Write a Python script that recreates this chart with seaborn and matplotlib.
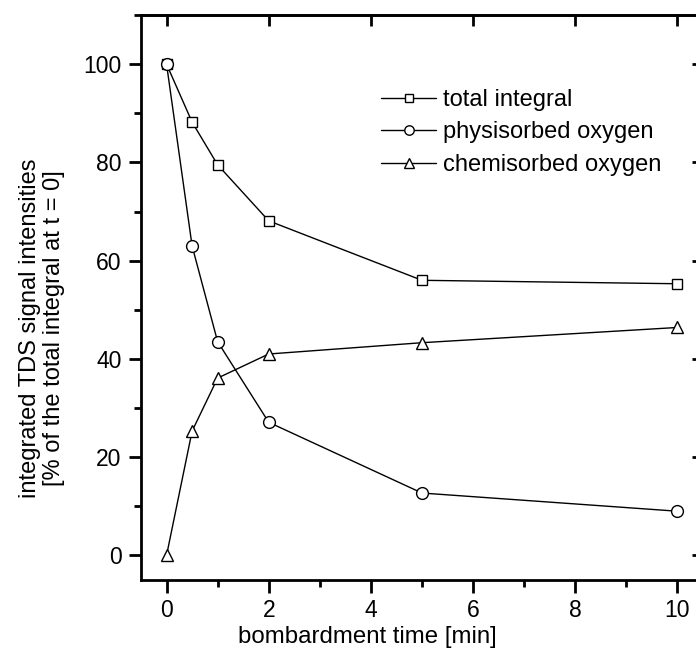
import matplotlib
matplotlib.use("Agg")
import matplotlib.pyplot as plt
import seaborn as sns
import pandas as pd
from matplotlib.ticker import MultipleLocator, NullLocator

sns.set_style("ticks")
plt.rcParams['font.family'] = ['Liberation Sans', 'DejaVu Sans']
plt.rcParams['text.color'] = 'black'
plt.rcParams['axes.labelcolor'] = 'black'
plt.rcParams['xtick.color'] = 'black'
plt.rcParams['ytick.color'] = 'black'

time_min = [0, 0.5, 1, 2, 5, 10]
total_integral = [100, 88.2, 79.5, 68.1, 56.0, 55.3]
physisorbed = [100, 63.0, 43.5, 27.1, 12.7, 9.0]
chemisorbed = [0, 25.3, 36.1, 41.0, 43.3, 46.4]
series_names = ["total integral", "physisorbed oxygen", "chemisorbed oxygen"]
series_markers = ["s", "o", "^"]

df = pd.concat([
    pd.DataFrame({"time": time_min, "value": vals, "series": name})
    for name, vals in zip(series_names, [total_integral, physisorbed, chemisorbed])
])

fig = plt.figure(figsize=(6.96, 6.53), dpi=100)
ax = fig.add_axes([141/696, 73/653, (703-141)/696, (580-15)/653])

for name, mk in zip(series_names, series_markers):
    sub = df[df["series"] == name]
    sns.lineplot(data=sub, x="time", y="value", ax=ax, color="black",
                 marker=mk, markersize=8.5 if mk != "s" else 7.5,
                 markerfacecolor="white", markeredgecolor="black",
                 markeredgewidth=1.0, linewidth=1.0, label=name)

for ln in ax.lines:
    ln.set_markerfacecolor("white")
    ln.set_markeredgecolor("black")

ax.set_xlim(-0.5, 10.5)
ax.set_ylim(-5, 110)
ax.xaxis.set_major_locator(MultipleLocator(2))
ax.xaxis.set_minor_locator(MultipleLocator(1))
ax.yaxis.set_major_locator(MultipleLocator(20))
ax.yaxis.set_minor_locator(MultipleLocator(10))

for s in ax.spines.values():
    s.set_linewidth(2.0)
    s.set_color("black")

ax.tick_params(axis="both", which="major", labelsize=16.5, width=2, length=9, direction="out",
               top=False, right=False, colors="black", pad=5)
ax.tick_params(axis="both", which="minor", width=2, length=5, direction="out",
               top=False, right=False)

# inward major ticks on top and right
sec_x = ax.secondary_xaxis("top")
sec_x.xaxis.set_major_locator(MultipleLocator(2))
sec_x.xaxis.set_minor_locator(NullLocator())
sec_x.tick_params(direction="in", length=8, width=2, labeltop=False)
sec_x.spines["top"].set_linewidth(2.0)
sec_y = ax.secondary_yaxis("right")
sec_y.yaxis.set_major_locator(MultipleLocator(20))
sec_y.yaxis.set_minor_locator(NullLocator())
sec_y.tick_params(direction="in", length=8, width=2, labelright=False)
sec_y.spines["right"].set_linewidth(2.0)

ax.set_xlabel("bombardment time [min]", fontsize=17.3)
ax.xaxis.set_label_coords((367-141)/562, -(637-580)/565, transform=ax.transAxes)
ax.xaxis.label.set_va("center")
ax.set_ylabel("integrated TDS signal intensities\n[% of the total integral at t = 0]",
              fontsize=17, linespacing=1.1)
ax.yaxis.set_label_coords(-(141-42)/562, (580-328)/565, transform=ax.transAxes)
ax.yaxis.label.set_va("center")

leg = ax.legend(loc="upper left", bbox_to_anchor=(0.41, 0.886), frameon=False,
                fontsize=17, handlelength=2.35, handletextpad=0.3,
                labelspacing=0.45, borderaxespad=0, markerscale=0.8)
for t in leg.get_texts():
    t.set_color("black")

fig.savefig("out.png", dpi=100)
